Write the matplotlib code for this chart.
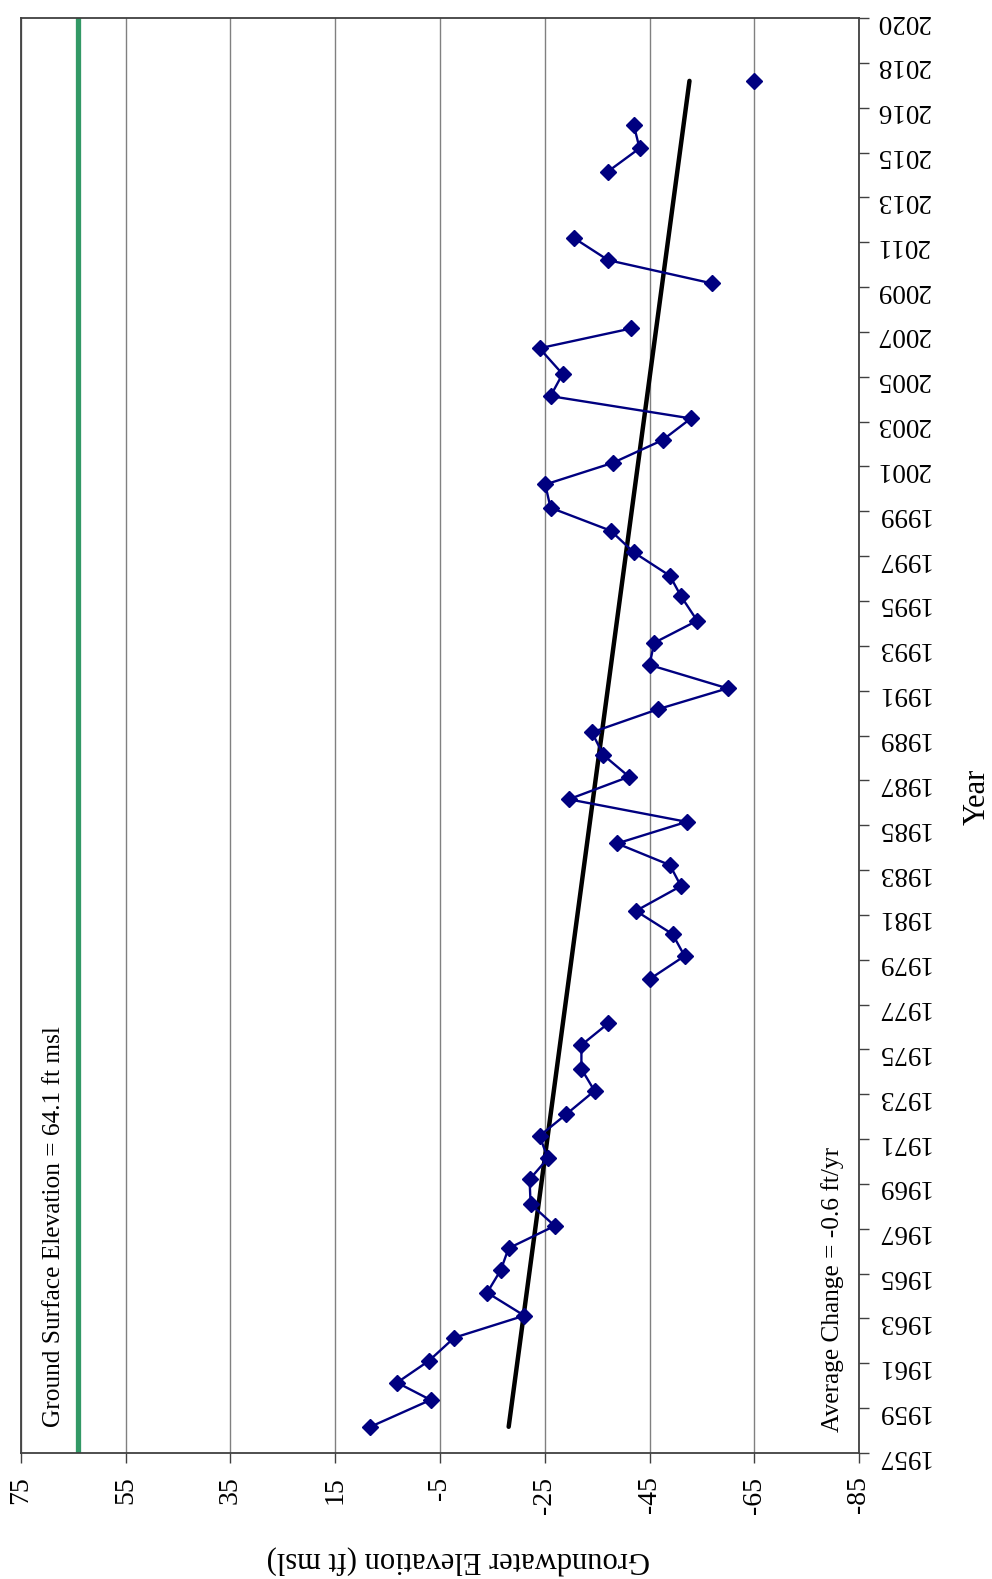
import numpy as np
import matplotlib
matplotlib.use("Agg")
import matplotlib.pyplot as plt

plt.rcParams['font.family'] = ['Liberation Serif', 'DejaVu Serif']

# Measurement dates (decimal years) and groundwater elevations (ft msl);
# NaN marks years without a reading so the line breaks there.
years = [1958.15, 1959.33, 1960.09, 1961.05, 1962.06, 1963.03, 1964.04, 1965.03,
         1965.99, 1966.97, 1967.93, 1969.01, 1969.94, 1970.92, 1971.87, 1972.90,
         1973.86, 1974.91, 1975.86, 1976.85, 1977.80, 1978.82, 1979.78, 1980.80,
         1981.89, 1982.81, 1983.76, 1984.71, 1985.70, 1986.69, 1987.64, 1988.64,
         1989.66, 1990.57, 1991.60, 1992.57, 1993.54, 1994.62, 1995.51, 1996.54,
         1997.49, 1998.50, 1999.52, 2000.47, 2001.47, 2002.42, 2003.40, 2004.37,
         2005.50, 2006.37, 2007.35, 2008.35, 2009.37, 2010.35, 2011.30, 2013.25,
         2014.28, 2015.30, 2016.25, 2017.24]
elevation = [8.3, -3.2, 3.2, -2.9, -7.7, -21.1, -14.0, -16.6,
             -18.1, -26.9, -22.3, -22.1, -25.6, -24.0, -29.1, -34.5,
             -32.0, -32.0, -37.1, np.nan, -45.0, -51.7, -49.4, -42.4,
             -51.0, -48.9, -38.8, -52.1, -29.6, -41.1, -36.2, -34.0,
             -46.7, -59.9, -45.0, -45.9, -54.1, -51.0, -48.9, -42.0,
             -37.6, -26.1, -25.1, -38.0, -47.5, -52.9, -26.1, -28.4,
             -24.0, -41.5, np.nan, -56.9, -37.1, -30.5, np.nan, -37.0,
             -43.1, -42.0, np.nan, -65.0]

ground_surface = 64.1
elev_ticks = [75, 55, 35, 15, -5, -25, -45, -65, -85]
year_tick_labels = ['1957', '1959', '1961', '1963', '1965', '1967', '1969', '1971',
                    '1973', '1975', '1977', '1979', '1981', '1983', '1985', '1987',
                    '1989', '1991', '1993', '1995', '1997', '1999', '2001', '2003',
                    '2005', '2007', '2009', '2011', '2013', '2015', '2016', '2018',
                    '2020']

yrs = np.array(years)
elev = np.array(elevation)

fig = plt.figure(figsize=(9.92, 15.79), dpi=100)
W, H = 992, 1579
ax = fig.add_axes([21 / W, 1 - 1453 / H, (859 - 21) / W, (1453 - 18) / H])

ax.set_xlim(75, -85)
ax.set_ylim(1957, 2020)

# vertical grid at each elevation tick
ax.set_xticks(elev_ticks)
ax.set_xticklabels([str(t) for t in elev_ticks], rotation=90, fontsize=20)
ax.grid(axis='x', color='#808080', linewidth=1.0)
ax.set_axisbelow(True)

ax.yaxis.tick_right()
ax.set_yticks(np.linspace(1957, 2020, len(year_tick_labels)))
ax.set_yticklabels(year_tick_labels, rotation=180, fontsize=19.5)

ax.tick_params(axis='x', direction='out', length=7, width=1.0, color='#404040', pad=10)
ax.tick_params(axis='y', direction='out', length=7, width=1.0, color='#404040', pad=5)
for s in ax.spines.values():
    s.set_color('#404040')
    s.set_linewidth(1.3)

# ground surface reference line
ax.axvline(ground_surface, color='#339966', linewidth=3.8)

# linear trend through the measurements
ok = ~np.isnan(elev)
slope, intercept = np.polyfit(yrs[ok], elev[ok], 1)
tx = np.array([yrs[ok].min(), yrs[ok].max()])
ax.plot(intercept + slope * tx, tx, color='black', linewidth=3.2, solid_capstyle='round', zorder=3)

# groundwater elevation record
ax.plot(elev, yrs, color='#000080', linewidth=1.7, marker='D', markersize=8,
        markerfacecolor='#000080', markeredgecolor='#000080', zorder=4)

fig.text(54 / W, 1 - 1427 / H, 'Ground Surface Elevation = 64.1 ft msl',
         rotation=90, fontsize=18.3, ha='center', va='bottom')
fig.text(833 / W, 1 - 1432 / H, 'Average Change = %.1f ft/yr' % slope,
         rotation=90, fontsize=18.3, ha='center', va='bottom')
fig.text(977 / W, 1 - 797 / H, 'Year', rotation=90, fontsize=22, ha='center', va='center')
fig.text(458 / W, 1 - 1559 / H, 'Groundwater Elevation (ft msl)', rotation=180,
         fontsize=22, ha='center', va='center')

fig.savefig('out.png', dpi=100)
